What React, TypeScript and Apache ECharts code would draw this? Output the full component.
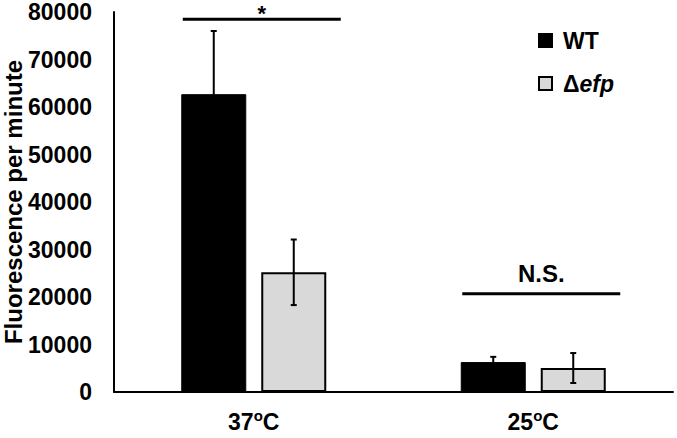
import React, { useEffect, useRef } from "react";
import * as echarts from "echarts";

const categories = ["37", "25"];
const wtValues = [62700, 6300];
const wtErrors = [13300, 1100];
const efpValues = [25200, 5050];
const efpErrors = [6900, 3150];
const yTicks = { min: 0, max: 80000, interval: 10000 };
const significance = [
  { cat: 0, y: 78500, label: "*" },
  { cat: 1, y: 20700, label: "N.S." },
];

const FONT = "'Liberation Sans', Arial, sans-serif";

export default function App() {
  const ref = useRef<HTMLDivElement>(null);
  useEffect(() => {
    document.body.style.margin = "0";
    const chart = echarts.init(ref.current!, null, { renderer: "svg" });
    const BAR_W = 65;
    const GAP = 15;
    const off = (BAR_W + GAP) / 2;

    const errData = (vals: number[], errs: number[]) =>
      vals.map((v, i) => [i, v - errs[i], v + errs[i]]);

    const errRender = (shift: number) => (params: any, api: any) => {
      const c = api.value(0);
      const lo = api.coord([c, api.value(1)]);
      const hi = api.coord([c, api.value(2)]);
      const x = lo[0] + shift;
      const cap = 3;
      const st = { stroke: "#000", lineWidth: 2 };
      return {
        type: "group",
        children: [
          { type: "line", shape: { x1: x, y1: lo[1], x2: x, y2: hi[1] }, style: st },
          { type: "line", shape: { x1: x - cap, y1: hi[1], x2: x + cap, y2: hi[1] }, style: st },
          { type: "line", shape: { x1: x - cap, y1: lo[1], x2: x + cap, y2: lo[1] }, style: st },
        ],
      };
    };

    chart.setOption({
      animation: false,
      textStyle: { fontFamily: FONT },
      grid: { left: 114, right: 4, top: 12, bottom: 46, containLabel: false, outerBoundsMode: "none" },
      legend: {
        orient: "vertical",
        left: 533,
        top: 24,
        itemWidth: 13,
        itemHeight: 13,
        itemGap: 20,
        icon: "rect",
        data: ["WT", "Δefp"],
        formatter: (name: string) => (name === "Δefp" ? "{d|Δ}{i|efp}" : "{d|" + name + "}"),
        textStyle: {
          fontFamily: FONT,
          padding: [0, 0, 0, 6],
          rich: {
            d: { fontFamily: FONT, fontSize: 23, fontWeight: "bold", color: "#000", lineHeight: 24 },
            i: { fontFamily: FONT, fontSize: 23, fontWeight: "bold", fontStyle: "italic", color: "#000", lineHeight: 24 },
          },
        },
      },
      xAxis: {
        type: "category",
        data: categories,
        axisLine: { lineStyle: { color: "#000", width: 2 } },
        axisTick: { show: false },
        axisLabel: {
          margin: 16,
          formatter: (v: string) => "{n|" + v + "}{s|o}{n|C}",
          rich: {
            n: { fontFamily: FONT, fontSize: 23, fontWeight: "bold", color: "#000" },
            s: { fontFamily: FONT, fontSize: 15, fontWeight: "bold", color: "#000", padding: [0, 0, 12, 0] },
          },
        },
      },
      yAxis: {
        type: "value",
        min: yTicks.min,
        max: yTicks.max,
        interval: yTicks.interval,
        name: "Fluorescence per minute",
        nameLocation: "middle",
        nameGap: 89,
        nameMoveOverlap: false,
        nameTextStyle: { fontFamily: FONT, fontSize: 24, fontWeight: "bold", color: "#000" },
        axisLine: { show: true, lineStyle: { color: "#000", width: 2 } },
        axisTick: { show: false },
        splitLine: { show: false },
        axisLabel: {
          margin: 22,
          formatter: (v: number) => String(v),
          fontFamily: FONT,
          fontSize: 23,
          fontWeight: "bold",
          color: "#000",
        },
      },
      series: [
        {
          name: "WT",
          type: "bar",
          data: wtValues,
          barWidth: BAR_W,
          barGap: (GAP / BAR_W) * 100 + "%",
          itemStyle: { color: "#000", borderColor: "#000", borderWidth: 1 },
        },
        {
          name: "Δefp",
          type: "bar",
          data: efpValues,
          barWidth: BAR_W,
          itemStyle: { color: "#d9d9d9", borderColor: "#000", borderWidth: 2 },
        },
        {
          type: "custom",
          data: errData(wtValues, wtErrors),
          renderItem: errRender(-off),
          z: 5,
        },
        {
          type: "custom",
          data: errData(efpValues, efpErrors),
          renderItem: errRender(off),
          z: 5,
        },
        {
          type: "custom",
          data: significance.map((s) => [s.cat, s.y, s.label]),
          renderItem: (params: any, api: any) => {
            const p = api.coord([api.value(0), api.value(1)]);
            const label = significance[params.dataIndex].label;
            const isStar = label === "*";
            return {
              type: "group",
              children: [
                {
                  type: "line",
                  shape: { x1: p[0] - 71, y1: p[1], x2: p[0] + 87, y2: p[1] },
                  style: { stroke: "#000", lineWidth: 3 },
                },
                {
                  type: "text",
                  x: p[0] + 8,
                  y: isStar ? p[1] - 6 : p[1] - 20,
                  style: {
                    text: label,
                    fontFamily: FONT,
                    fontSize: isStar ? 22 : 24,
                    fontWeight: "bold",
                    fill: "#000",
                    align: "center",
                    verticalAlign: "middle",
                  },
                },
              ],
            };
          },
          z: 5,
        },
      ],
    });
    return () => chart.dispose();
  }, []);
  return <div ref={ref} style={{ width: 677, height: 438 }} />;
}
